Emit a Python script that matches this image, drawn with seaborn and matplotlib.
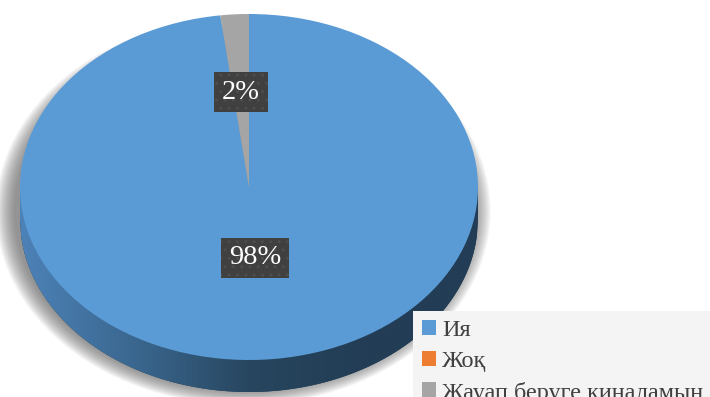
import os
import numpy as np
import matplotlib
matplotlib.use("Agg")
import matplotlib.pyplot as plt
import seaborn as sns
from matplotlib.patches import Ellipse, Polygon
from matplotlib.colors import LinearSegmentedColormap
from matplotlib.font_manager import FontProperties, findfont

sns.set_style("white")
SERIF_PATH = "/usr/share/fonts/truetype/liberation/LiberationSerif-Regular.ttf"
if not os.path.exists(SERIF_PATH):
    SERIF_PATH = findfont(FontProperties(family="Liberation Serif"))
plt.rcParams['font.family'] = ['Liberation Serif', 'DejaVu Serif']


def serif(size):
    return FontProperties(fname=SERIF_PATH, size=size)


# data
categories = ["Ия", "Жоқ", "Жауап беруге қиналамын"]
values = [98, 0, 2]
colors = ["#5b9bd5", "#ed7d31", "#a5a5a5"]

W, H = 710, 397
cx, cy, rx, ry = 249, 187, 229, 173
depth_px = 32

fig = plt.figure(figsize=(W / 100, H / 100), dpi=100)
ax = fig.add_axes([0, 0, 1, 1])
ax.set_xlim(-cx / rx, (W - cx) / rx)
ax.set_ylim(-(H - cy) / ry, cy / ry)
ax.set_axis_off()

d = depth_px / ry

# soft shadow
for i in range(18):
    k = i / 17
    e = Ellipse((-0.025, -0.14), 2 * (1.08 - 0.08 * k), 2 * (1.12 - 0.09 * k),
                facecolor="#666666", edgecolor="none", alpha=0.06, zorder=1)
    ax.add_patch(e)

# side of the disc
xs = np.linspace(-1, 1, 400)
lower = -d - np.sqrt(1 - xs ** 2)
poly_pts = np.concatenate([np.column_stack([xs, lower]),
                           np.column_stack([xs[::-1], np.zeros_like(xs)])])
side = Polygon(poly_pts, closed=True, facecolor="#223d55", edgecolor="none", zorder=2)
ax.add_patch(side)
cmap = LinearSegmentedColormap.from_list("side", ["#4d82b8", "#3a678f", "#28465f", "#223d55", "#223d55"])
grad = np.linspace(0, 1, 256).reshape(1, -1)
im = ax.imshow(grad, cmap=cmap, extent=(-1, 1, -1 - d, 0), aspect="auto", zorder=3)
im.set_clip_path(side)

# top face
wedges, _ = ax.pie(values, colors=colors, startangle=90, counterclock=False,
                   radius=1, center=(0, 0), frame=True,
                   wedgeprops=dict(edgecolor="none"))
for w in wedges:
    w.set_zorder(4)
ax.set_xlim(-cx / rx, (W - cx) / rx)
ax.set_ylim(-(H - cy) / ry, cy / ry)
ax.set_aspect("auto")
ax.set_axis_off()

# labels
label_r = {0: 0.41, 2: 0.55}
for i, (w, v) in enumerate(zip(wedges, values)):
    if v == 0:
        continue
    ang = np.deg2rad((w.theta1 + w.theta2) / 2)
    r = label_r.get(i, 0.5)
    ax.text(r * np.cos(ang), r * np.sin(ang), f"{v}%", ha="center", va="center",
            fontproperties=serif(20.5), color="white", zorder=6,
            bbox=dict(boxstyle="square,pad=0.27", facecolor="#404040",
                      edgecolor="#4d4d4d", hatch="..", linewidth=0))

leg = fig.legend(wedges, categories, loc="upper left",
                 bbox_to_anchor=(413 / W, 1 - 311 / H), bbox_transform=fig.transFigure,
                 frameon=True, fancybox=False, facecolor="#f4f4f4", edgecolor="none",
                 framealpha=1, prop=serif(17.5),
                 handlelength=0.6, handleheight=0.6,
                 handletextpad=0.25, labelspacing=0.4, borderpad=0.35, borderaxespad=0)
for t in leg.get_texts():
    t.set_color("#404040")

fig.savefig("out.png", dpi=100)
